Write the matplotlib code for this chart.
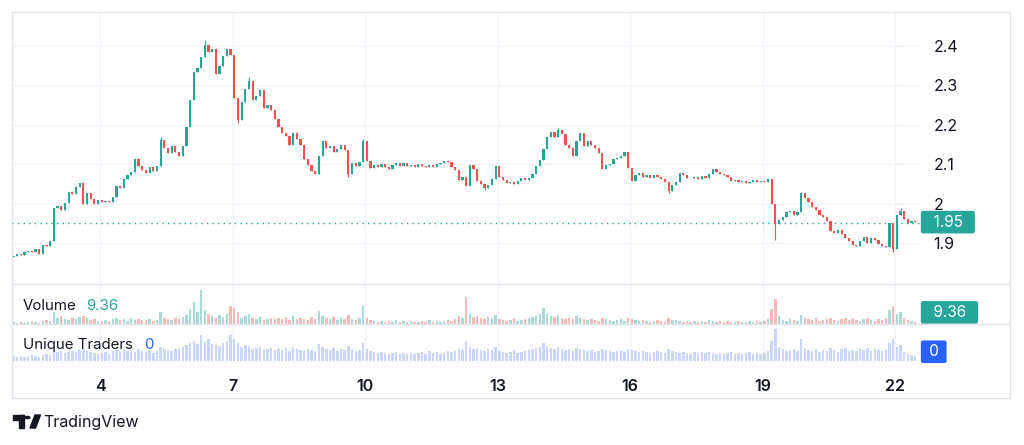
import numpy as np
import matplotlib.pyplot as plt
import matplotlib.transforms as mtransforms
from matplotlib.patches import Rectangle, Circle, Polygon

plt.rcParams['font.family'] = ['Inter', 'DejaVu Sans']

# 2h candles, first one at day 2.04
start_day = 2.04
first_open = 1.865
closes = [
    1.868, 1.873, 1.870, 1.877, 1.881, 1.876, 1.885, 1.872, 1.896, 1.892, 1.906, 1.988,
    1.993, 1.985, 2.002, 2.030, 2.024, 2.043, 2.052, 1.998, 2.027, 2.012, 2.000, 2.010,
    2.003, 2.006, 2.004, 2.018, 2.045, 2.040, 2.062, 2.072, 2.080, 2.112, 2.095, 2.085,
    2.078, 2.092, 2.083, 2.095, 2.162, 2.140, 2.128, 2.145, 2.132, 2.122, 2.145, 2.195,
    2.262, 2.335, 2.345, 2.372, 2.402, 2.385, 2.392, 2.330, 2.350, 2.375, 2.392, 2.378,
    2.268, 2.212, 2.258, 2.290, 2.310, 2.262, 2.272, 2.288, 2.242, 2.250, 2.238, 2.215,
    2.195, 2.180, 2.172, 2.150, 2.180, 2.165, 2.148, 2.112, 2.098, 2.082, 2.075, 2.120,
    2.160, 2.140, 2.145, 2.132, 2.138, 2.148, 2.136, 2.075, 2.102, 2.095, 2.105, 2.158,
    2.108, 2.090, 2.098, 2.093, 2.100, 2.094, 2.088, 2.098, 2.102, 2.096, 2.103, 2.095,
    2.099, 2.094, 2.100, 2.096, 2.092, 2.098, 2.094, 2.100, 2.104, 2.108, 2.106, 2.094,
    2.085, 2.060, 2.068, 2.045, 2.098, 2.088, 2.058, 2.050, 2.040, 2.048, 2.062, 2.096,
    2.068, 2.060, 2.052, 2.056, 2.050, 2.058, 2.066, 2.060, 2.064, 2.075, 2.095, 2.110,
    2.138, 2.168, 2.182, 2.170, 2.188, 2.176, 2.150, 2.142, 2.122, 2.160, 2.178, 2.146,
    2.158, 2.150, 2.140, 2.128, 2.088, 2.098, 2.100, 2.112, 2.116, 2.122, 2.130, 2.090,
    2.058, 2.072, 2.077, 2.068, 2.073, 2.066, 2.072, 2.068, 2.062, 2.054, 2.032, 2.046,
    2.055, 2.078, 2.072, 2.066, 2.064, 2.068, 2.063, 2.070, 2.066, 2.075, 2.088, 2.080,
    2.076, 2.072, 2.068, 2.058, 2.060, 2.055, 2.058, 2.052, 2.056, 2.060, 2.054, 2.058,
    2.056, 2.062, 1.998, 1.948, 1.958, 1.965, 1.978, 1.982, 1.972, 1.978, 2.026, 2.015,
    2.005, 1.992, 1.985, 1.972, 1.965, 1.955, 1.930, 1.926, 1.932, 1.924, 1.912, 1.905,
    1.896, 1.892, 1.905, 1.915, 1.900, 1.914, 1.908, 1.898, 1.893, 1.890, 1.952, 1.885,
    1.972, 1.980, 1.962, 1.950, 1.955, 1.953,
]
# notable wicks (index: price)
wick_high = {52: 2.414, 64: 2.322, 40: 2.168, 95: 2.164, 148: 2.192, 214: 2.030, 241: 1.990}
wick_low = {61: 2.205, 91: 2.068, 207: 1.908, 239: 1.876, 178: 2.026, 128: 2.034}

volume = [
    2, 1, 2, 1, 2, 3, 2, 1, 3, 4, 3, 12,
    6, 8, 5, 4, 6, 5, 7, 8, 6, 4, 5, 3,
    3, 4, 3, 5, 6, 4, 5, 3, 6, 4, 5, 4,
    4, 5, 3, 4, 12, 6, 5, 4, 6, 5, 7, 9,
    15, 22, 12, 34, 14, 10, 8, 6, 9, 7, 10, 18,
    16, 12, 6, 8, 10, 6, 5, 7, 4, 5, 6, 5,
    6, 5, 7, 4, 8, 5, 6, 5, 4, 7, 5, 13,
    8, 6, 5, 7, 4, 6, 5, 9, 5, 4, 6, 18,
    6, 4, 3, 2, 3, 2, 3, 2, 4, 2, 3, 2,
    3, 2, 2, 3, 2, 4, 2, 3, 2, 3, 4, 3,
    5, 8, 6, 27, 10, 7, 8, 6, 5, 7, 6, 9,
    5, 4, 3, 4, 6, 3, 4, 5, 6, 7, 8, 10,
    16, 10, 8, 7, 9, 6, 5, 6, 5, 8, 6, 5,
    4, 5, 4, 3, 6, 5, 4, 3, 4, 5, 3, 6,
    5, 4, 3, 4, 3, 2, 3, 4, 3, 2, 6, 4,
    4, 3, 2, 3, 2, 3, 2, 3, 2, 4, 3, 2,
    3, 2, 3, 2, 2, 3, 2, 2, 3, 2, 3, 2,
    3, 5, 15, 25, 8, 4, 3, 5, 4, 3, 9, 6,
    5, 4, 6, 3, 4, 5, 6, 4, 3, 5, 6, 4,
    5, 4, 3, 5, 6, 4, 3, 5, 4, 6, 14, 18,
    10, 12, 6, 4, 3, 2,
]
traders = [
    5, 4, 5, 4, 5, 6, 5, 4, 6, 7, 6, 9,
    9, 10, 8, 9, 10, 9, 11, 12, 10, 9, 8, 7,
    8, 9, 7, 10, 11, 9, 12, 10, 11, 9, 12, 10,
    9, 11, 8, 10, 14, 12, 11, 10, 12, 13, 14, 16,
    18, 20, 17, 26, 19, 22, 17, 16, 15, 18, 20, 26,
    22, 18, 14, 16, 15, 12, 13, 14, 11, 12, 13, 11,
    12, 11, 13, 10, 14, 12, 11, 10, 12, 11, 10, 17,
    14, 12, 11, 13, 10, 12, 11, 15, 12, 10, 11, 18,
    12, 10, 9, 8, 9, 8, 7, 8, 9, 7, 8, 7,
    8, 7, 8, 9, 7, 10, 8, 9, 7, 8, 10, 9,
    10, 12, 11, 20, 14, 12, 13, 11, 10, 12, 11, 14,
    10, 9, 8, 9, 11, 8, 9, 10, 11, 12, 13, 14,
    18, 15, 13, 12, 14, 12, 11, 12, 10, 13, 12, 11,
    10, 11, 9, 10, 12, 11, 10, 9, 10, 11, 9, 12,
    11, 10, 9, 10, 9, 8, 9, 10, 9, 8, 12, 10,
    9, 8, 9, 8, 7, 9, 8, 9, 8, 9, 8, 7,
    8, 7, 8, 9, 7, 8, 7, 8, 9, 7, 8, 7,
    8, 10, 20, 32, 14, 12, 10, 11, 12, 10, 22, 13,
    11, 10, 12, 9, 11, 10, 13, 11, 9, 12, 13, 10,
    11, 10, 12, 11, 13, 10, 12, 11, 10, 12, 18, 22,
    14, 16, 9, 7, 6, 5,
]

price_ticks = [1.9, 2.0, 2.1, 2.2, 2.3, 2.4]
price_labels = ['1.9', '2', '2.1', '2.2', '2.3', '2.4']
day_ticks = [4, 7, 10, 13, 16, 19, 22]
last_price = 1.95
last_volume = '9.36'
last_traders = '0'

up = '#26a69a'
down = '#ef5350'
blue = '#2962ff'
grid = '#f0f3fa'
border = '#e0e3eb'
txt = '#131722'

closes = np.array(closes)
opens = np.concatenate([[first_open], closes[:-1]])
n = len(closes)
days = start_day + np.arange(n) / 12
rising = closes >= opens
colors = np.where(rising, up, down)

W, H = 1024, 445
fig = plt.figure(figsize=(W / 100, H / 100), dpi=100)
fig.patch.set_facecolor('white')

def px_axes(x0, y0, x1, y1):
    return fig.add_axes([x0 / W, 1 - y1 / H, (x1 - x0) / W, (y1 - y0) / H])

ax = px_axes(12, 12, 921, 284)
axv = px_axes(12, 284, 921, 324)
axt = px_axes(12, 324, 921, 361)
xlim = (2.008, 22.587)

for a in (ax, axv, axt):
    a.set_xlim(*xlim)
    for s in a.spines.values():
        s.set_visible(False)
    a.set_facecolor('none')
    for d in day_ticks:
        a.axvline(d, color=grid, lw=1, zorder=0)
    a.tick_params(length=0)
    a.set_yticks([])
    a.set_xticks([])

box = dict(boxstyle='round,pad=0.25,rounding_size=0.15', ec='none')

# price pane
ax.set_ylim(1.796, 2.4863)
for p in price_ticks:
    ax.axhline(p, color=grid, lw=1, zorder=0)
highs = np.maximum(opens, closes)
lows = np.minimum(opens, closes)
for k, v in wick_high.items():
    highs[k] = v
for k, v in wick_low.items():
    lows[k] = v
ax.vlines(days, lows, highs, colors=colors, lw=0.8, zorder=2)
body = np.maximum(np.abs(closes - opens), 0.0015)
ax.bar(days, body, bottom=np.minimum(opens, closes), width=0.05, color=colors, zorder=3, linewidth=0)
ax.axhline(last_price, color=up, lw=1, ls=(0, (1, 3)), zorder=1)
ax.yaxis.tick_right()
ax.set_yticks(price_ticks)
ax.set_yticklabels(price_labels, fontsize=11.5, color=txt)
ax.tick_params(axis='y', pad=9, length=0)

trans = mtransforms.blended_transform_factory(ax.transAxes, ax.transData)
ax.text(1.004, last_price + 0.003, '  1.95  ', transform=trans, ha='left', va='center', fontsize=11,
        color='white', bbox=dict(box, fc=up), clip_on=False)

# volume pane
axv.set_ylim(0, 40)
vcol = [up + '66' if r else down + '66' for r in rising]
axv.bar(days, volume, width=0.055, color=vcol, linewidth=0)
axv.text(0.012, 0.45, 'Volume', transform=axv.transAxes, fontsize=10.8, color=txt, va='center')
axv.text(0.0815, 0.45, last_volume, transform=axv.transAxes, fontsize=10.8, color=up, va='center')
axv.text(1.004, 0.29, '  ' + last_volume + '  ', transform=axv.transAxes, ha='left', va='center',
         fontsize=11, color='white', bbox=dict(box, fc=up), clip_on=False)

# unique traders pane
axt.set_ylim(0, 37)
axt.bar(days, traders, width=0.055, color='#2962ff40', linewidth=0)
axt.text(0.012, 0.43, 'Unique Traders', transform=axt.transAxes, fontsize=10.8, color=txt, va='center')
axt.text(0.145, 0.43, last_traders, transform=axt.transAxes, fontsize=10.8, color=blue, va='center')
axt.text(1.004, 0.25, ' ' + last_traders + ' ', transform=axt.transAxes, ha='left', va='center',
         fontsize=11, color='white', bbox=dict(box, fc=blue), clip_on=False)
axt.set_xticks(day_ticks)
axt.set_xticklabels([str(d) for d in day_ticks], fontsize=11.5, color=txt, fontweight='semibold')
axt.tick_params(axis='x', pad=13, length=0)

# frame and pane separators
def fig_line(x0, y0, x1, y1):
    fig.add_artist(plt.Line2D([x0 / W, x1 / W], [1 - y0 / H, 1 - y1 / H], color=border, lw=1))

fig_line(12, 12, 1010, 12)
fig_line(12, 398, 1010, 398)
fig_line(12, 12, 12, 398)
fig_line(1010, 12, 1010, 398)
fig_line(12, 284, 1010, 284)
fig_line(12, 324, 1010, 324)

# TradingView logo
def fx(x):
    return x / W

def fy(y):
    return 1 - y / H

logo = [
    Rectangle((fx(13), fy(420)), fx(11) - fx(0), fy(415) - fy(420)),
    Rectangle((fx(18.5), fy(428)), fx(5.5) - fx(0), fy(415) - fy(428)),
    Polygon([(fx(30), fy(428)), (fx(35), fy(415)), (fx(40.5), fy(415)), (fx(35.5), fy(428))]),
]
for patch in logo:
    patch.set_color(txt)
    patch.set_transform(fig.transFigure)
    fig.add_artist(patch)
dot = Circle((fx(27.5), fy(417.5)), 2.4 / W, color=txt, transform=fig.transFigure)
fig.add_artist(dot)
fig.text(fx(43), fy(422), 'TradingView', fontsize=11.5, color=txt, va='center', ha='left')

fig.savefig('out.png', dpi=100, facecolor='white')
